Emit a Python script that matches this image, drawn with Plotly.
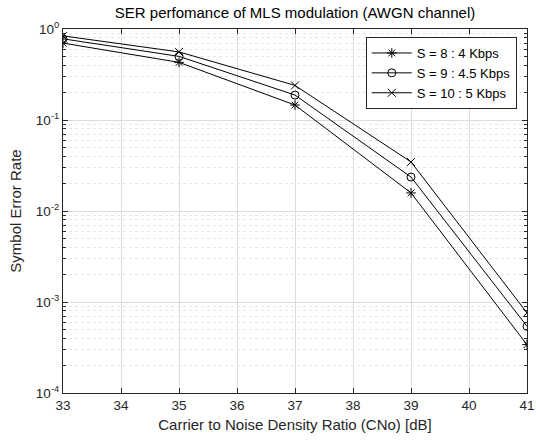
import plotly.graph_objects as go

cno_db = [33, 35, 37, 39, 41]
ser_s8 = [0.70, 0.43, 0.146, 0.0158, 3.4e-4]
ser_s9 = [0.78, 0.50, 0.188, 0.0236, 5.4e-4]
ser_s10 = [0.84, 0.56, 0.24, 0.0346, 7.6e-4]
series_names = ["S = 8 : 4 Kbps", "S = 9 : 4.5 Kbps", "S = 10 : 5 Kbps"]
series_symbols = ["asterisk-open", "circle-open", "x-thin-open"]
x_ticks = [33, 34, 35, 36, 37, 38, 39, 40, 41]
y_ticks = [1e-4, 1e-3, 1e-2, 1e-1, 1e0]
y_ticktext = ["10<sup>-4</sup>", "10<sup>-3</sup>", "10<sup>-2</sup>", "10<sup>-1</sup>", "10<sup>0</sup>"]

minor_vals = [m * 10.0 ** e for e in range(-4, 0) for m in range(2, 10)]

fig = go.Figure()
for name, sym, ys in zip(series_names, series_symbols, [ser_s8, ser_s9, ser_s10]):
    fig.add_trace(go.Scatter(
        x=cno_db, y=ys, name=name, mode="lines+markers",
        line=dict(color="black", width=1),
        marker=dict(symbol=sym, size=8, color="black", line=dict(color="black", width=1)),
    ))

font = "Liberation Sans, Arial, sans-serif"
fig.update_layout(
    width=536, height=441,
    margin=dict(l=63, r=9, t=29, b=48),
    paper_bgcolor="white", plot_bgcolor="white",
    font=dict(family=font, size=13, color="#262626"),
    title=dict(text="SER perfomance of MLS modulation (AWGN channel)",
               x=0.5, xanchor="center", y=0.97, yanchor="middle",
               xref="paper",
               font=dict(family=font, size=15, color="black")),
    legend=dict(x=0.978, y=0.978, xanchor="right", yanchor="top",
                bgcolor="white", bordercolor="#262626", borderwidth=1,
                font=dict(family=font, size=13, color="black"), tracegroupgap=0,
                itemwidth=40),
    showlegend=True,
)
fig.update_xaxes(
    range=[33, 41], tickvals=x_ticks, showgrid=True, gridcolor="#dcdcdc", gridwidth=1,
    showline=True, linecolor="#262626", linewidth=1, mirror="ticks",
    ticks="inside", ticklen=5, tickcolor="#262626", zeroline=False,
    automargin=False, ticklabeloverflow="allow",
    title=dict(text="Carrier to Noise Density Ratio (CNo) [dB]", standoff=7,
               font=dict(family=font, size=15, color="#262626")),
    tickfont=dict(family=font, size=13.5, color="#262626"),
)
fig.update_yaxes(
    type="log", range=[-4, 0], tickvals=y_ticks, ticktext=y_ticktext,
    showgrid=True, gridcolor="#dcdcdc", gridwidth=1,
    showline=True, linecolor="#262626", linewidth=1, mirror="ticks",
    ticks="inside", ticklen=5, tickcolor="#262626", zeroline=False,
    automargin=False, ticklabeloverflow="allow",
    minor=dict(tickvals=minor_vals, showgrid=True, gridcolor="#e6e6e6",
               griddash="dot", ticks="inside", ticklen=3, tickcolor="#262626"),
    title=dict(text="Symbol Error Rate", standoff=10,
               font=dict(family=font, size=15, color="#262626")),
    tickfont=dict(family=font, size=13.5, color="#262626"),
)

fig.write_html("out.html", config={"displayModeBar": False},
               post_script="document.body.style.margin='0';")
